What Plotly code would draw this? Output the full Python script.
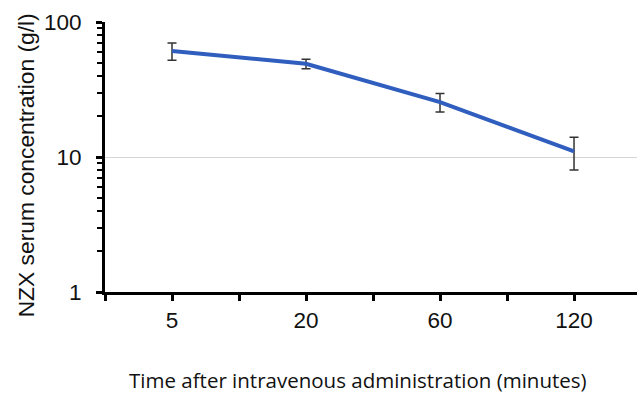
import plotly.graph_objects as go

categories = ["5", "20", "60", "120"]
concentration = [61, 49, 25.5, 11]
error = [9, 4, 4, 3]

x_pos = list(range(len(categories)))
minor_y = [m * 10 ** d for d in range(0, 2) for m in range(2, 10)]
minor_x = [i - 0.5 for i in range(len(categories) + 1)]

fig = go.Figure()
fig.add_trace(go.Scatter(
    x=x_pos, y=concentration, mode="lines",
    line=dict(color="#2F5EBF", width=4),
    error_y=dict(type="data", array=error, color="#333333", thickness=1.5, width=4.5),
    showlegend=False,
))

tick_font = dict(family="Liberation Sans, Arial, sans-serif", size=22.5, color="#111111")

fig.update_layout(
    width=637, height=393,
    margin=dict(l=105, r=0, t=22, b=101),
    paper_bgcolor="white", plot_bgcolor="white",
    xaxis=dict(
        range=[-0.5, 3.47], tickmode="array", tickvals=x_pos, ticktext=categories,
        showline=True, linecolor="black", linewidth=3,
        ticks="outside", ticklen=6, tickwidth=3, tickcolor="black",
        minor=dict(tickmode="array", tickvals=minor_x, ticks="outside", ticklen=6, tickwidth=3, tickcolor="black"),
        showgrid=False, zeroline=False, tickfont=tick_font, ticklabelstandoff=0,
    ),
    yaxis=dict(
        type="log", range=[0, 2], dtick=1,
        showline=True, linecolor="black", linewidth=3,
        ticks="outside", ticklen=6, tickwidth=3, tickcolor="black",
        minor=dict(tickmode="array", tickvals=minor_y, ticks="outside", ticklen=5, tickwidth=2, tickcolor="black", showgrid=False),
        showgrid=True, gridcolor="#d4d4d4", gridwidth=1, zeroline=False,
        tickfont=tick_font, ticklabelstandoff=10,
    ),
    annotations=[
        dict(text="NZX serum concentration (g/l)", xref="paper", yref="paper",
             x=-0.148, y=0.47, textangle=-90, showarrow=False,
             xanchor="center", yanchor="middle",
             font=dict(family="Liberation Sans, Arial, sans-serif", size=22.8, color="#111111")),
        dict(text="Time after intravenous administration (minutes)", xref="paper", yref="paper",
             x=0.4756, y=-0.326, showarrow=False, xanchor="center", yanchor="middle",
             font=dict(family="Open Sans, sans-serif", size=20.5, color="#111111")),
    ],
)

fig.write_html("out.html", config={"displayModeBar": False},
               post_script="document.body.style.margin='0';document.body.style.overflow='hidden';")
